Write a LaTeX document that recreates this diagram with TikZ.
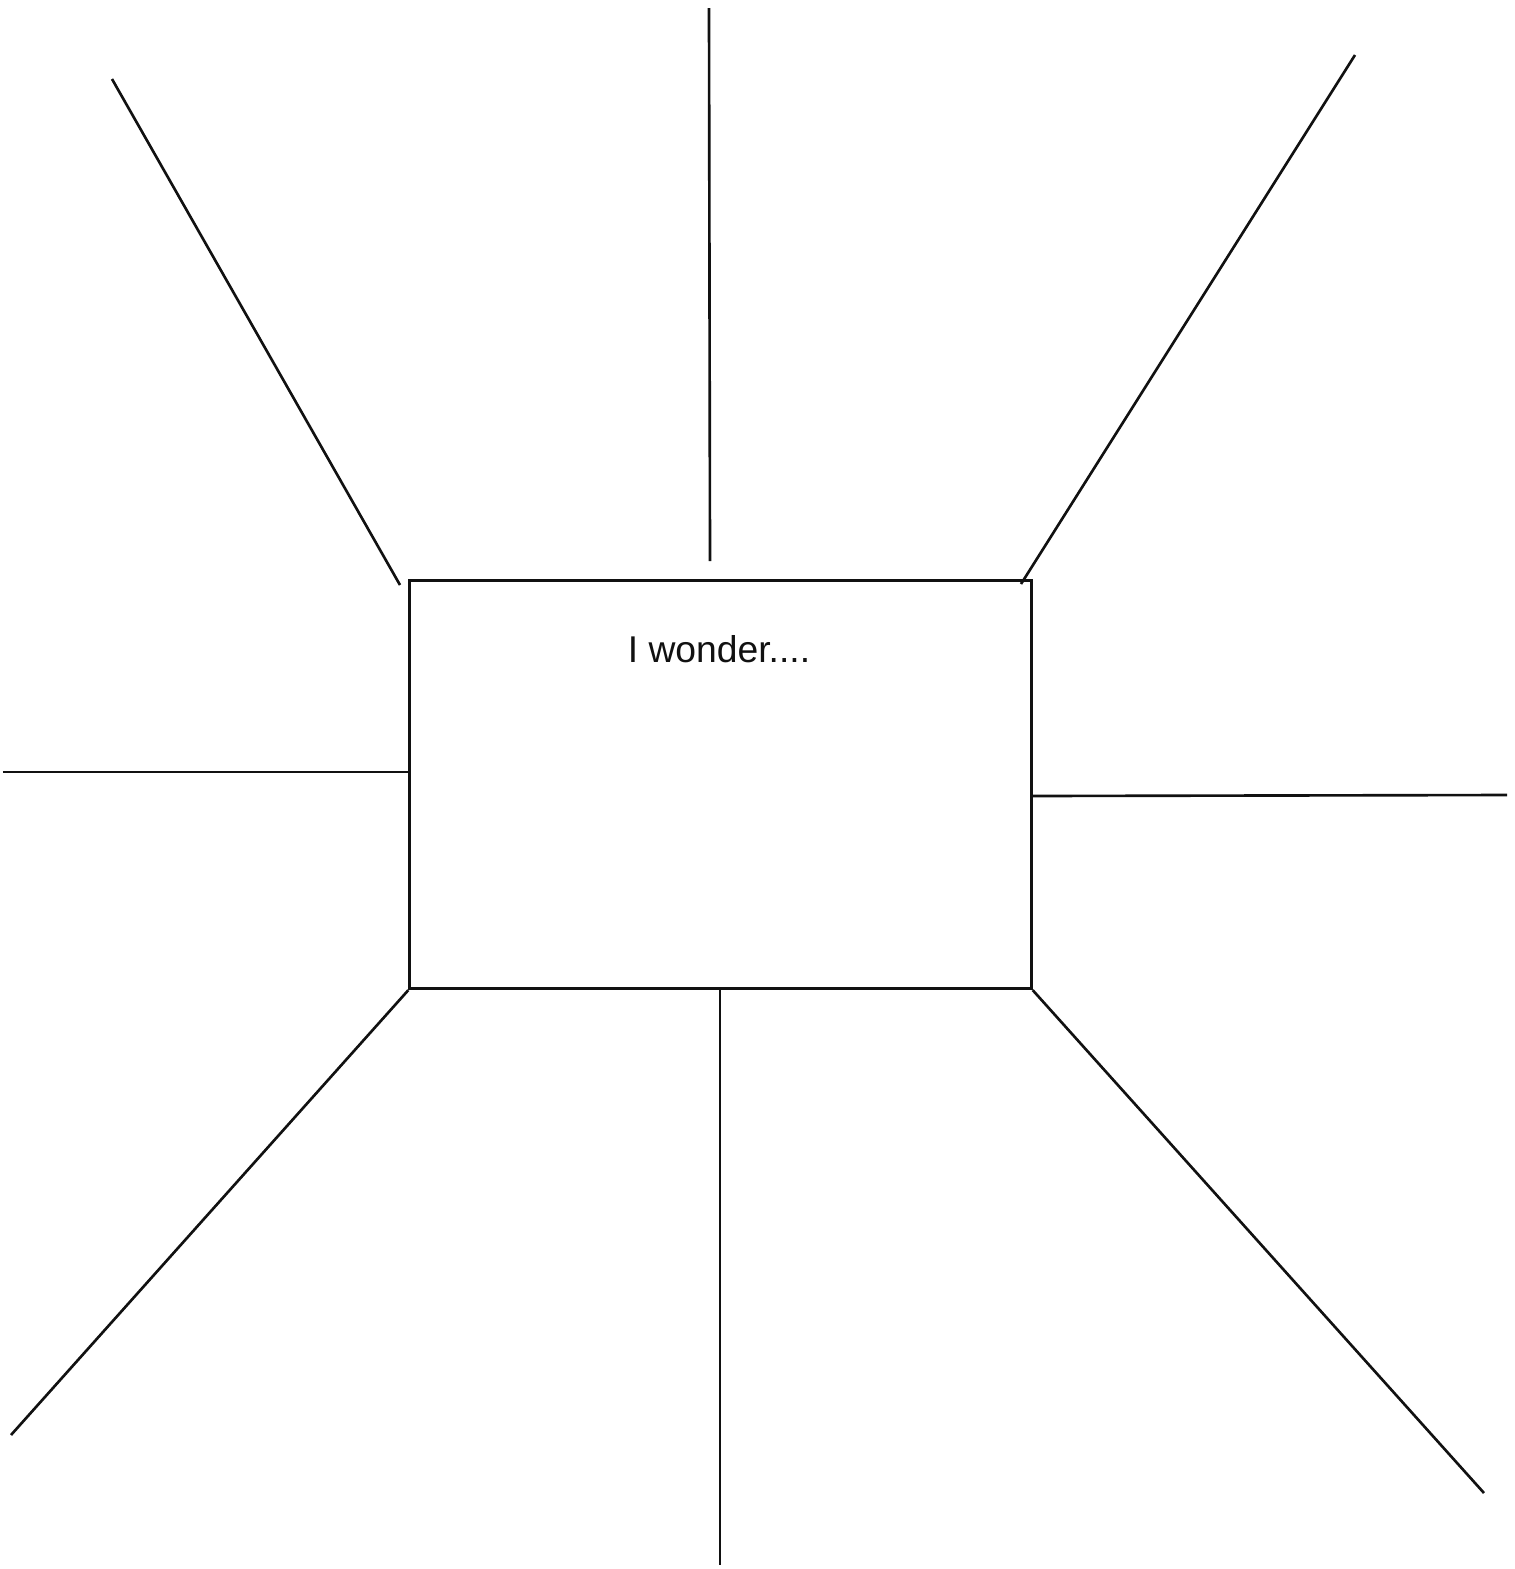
\documentclass[tikz,border=0pt]{standalone}
\usepackage{fontspec}
\setsansfont{Liberation Sans}
\usepackage{xcolor}
\usetikzlibrary{positioning,calc}
\definecolor{inkBlack}{HTML}{111111}

\begin{document}
\begin{tikzpicture}[
    x=0.01cm, y=-0.01cm,
    font=\fontsize{10.6}{13}\selectfont\sffamily,
    card/.style={draw=inkBlack, line width=0.85pt, minimum width=6.21cm, minimum height=4.08cm, inner sep=0pt},
    ray/.style={draw=inkBlack, line width=0.75pt}
  ]
    \useasboundingbox (0,0) rectangle (1514,1569);
    % central box
    \node[card] (wonder) at (720.5,784.5) {};
    \node[inkBlack, anchor=base] (prompt) at (719,662) {I wonder....};
    % free ends of the rays
    \coordinate (tlA) at (112,79);   \coordinate (tlB) at (400,585);
    \coordinate (tA) at (709,8);     \coordinate (tB) at (710,561);
    \coordinate (trA) at (1355,55);  \coordinate (trB) at (1021,584);
    \coordinate (lA) at (3,772);
    \coordinate (rA) at (1507,795);
    \coordinate (blA) at (11,1435);
    \coordinate (bA) at (720,1565);
    \coordinate (brA) at (1484,1493);
    \draw[ray] (tlA) -- (tlB);
    \draw[ray] (tA) -- (tB);
    \draw[ray] (trA) -- (trB);
    \draw[ray] (lA) -- (lA -| wonder.west);
    \draw[ray] (wonder.east |- 0,796) -- (rA);
    \draw[ray] (wonder.south west) -- (blA);
    \draw[ray] (wonder.south -| bA) -- (bA);
    \draw[ray] (wonder.south east) -- (brA);
  \end{tikzpicture}
\end{document}
